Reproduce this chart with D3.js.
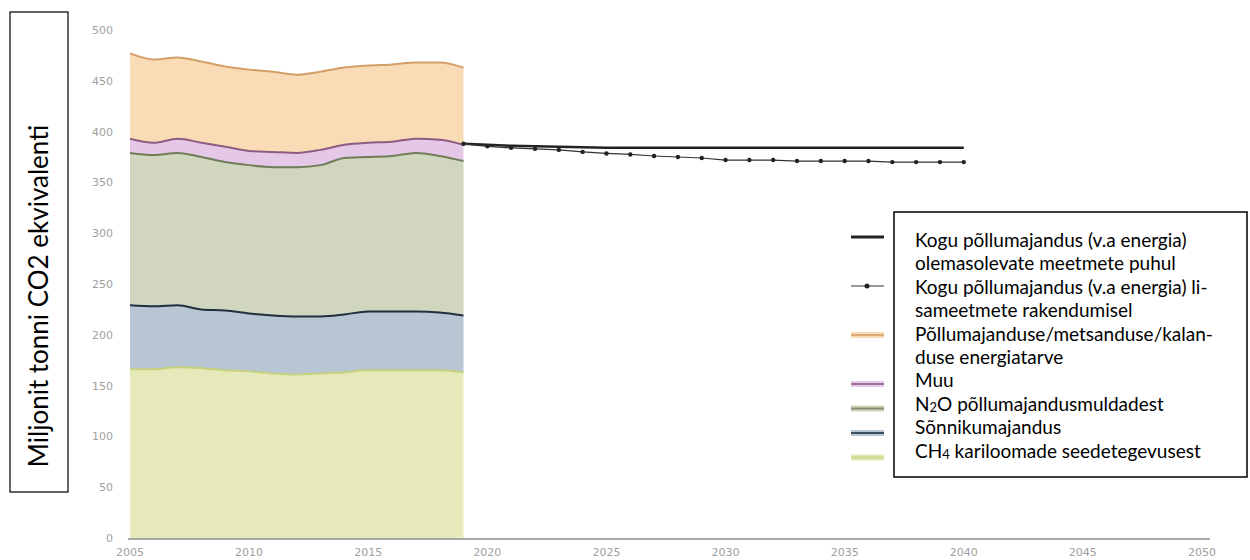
<!DOCTYPE html>
<html>
<head>
<meta charset="utf-8">
<script src="https://cdn.jsdelivr.net/npm/d3@7"></script>
<style>
  body { margin: 0; background: #fff; }
  svg { display: block; }
</style>
</head>
<body>
<script>
// ajaloolised andmed 2005-2019 (Mt CO2 ekv), komponendid alt üles
var years = [2005,2006,2007,2008,2009,2010,2011,2012,2013,2014,2015,2016,2017,2018,2019];
var ch4 =     [166,166,168,167,165,164,162,161,162,163,165,165,165,165,163];
var sonnik =  [63,62,61,58,59,57,57,57,56,57,58,58,58,57,56];
var n2o =     [150,149,150,150,146,146,146,147,149,154,152,153,156,154,152];
var muu =     [14,12,14,14,15,14,15,14,15,13,14,14,14,16,16];
var energia = [84,82,80,80,79,80,79,77,77,76,76,76,75,76,76];

// prognoosid 2019-2040
var projYears = [2019,2020,2021,2022,2023,2024,2025,2026,2027,2028,2029,2030,2031,2032,2033,2034,2035,2036,2037,2038,2039,2040];
var wem = [388,387,386,385.5,385,384.5,384,384,384,384,384,384,384,384,384,384,384,384,384,384,384,384];
var wam = [388,385.5,384,383,382,380,378.5,377.5,376,375,374,372,372,372,371,371,371,371,370,370,370,370];

var xTicks = [2005,2010,2015,2020,2025,2030,2035,2040,2045,2050];
var yTicks = [0,50,100,150,200,250,300,350,400,450,500];

var legendLines = [
  "Kogu põllumajandus (v.a energia)",
  "olemasolevate meetmete puhul",
  "Kogu põllumajandus (v.a energia) li-",
  "sameetmete rakendumisel",
  "Põllumajanduse/metsanduse/kalan-",
  "duse energiatarve",
  "Muu",
  "N|2|O põllumajandusmuldadest",
  "Sõnnikumajandus",
  "CH|4| kariloomade seedetegevusest"
];

var keys = ["ch4","sonnik","n2o","muu","energia"];
var fills = {ch4:"#e6eabb", sonnik:"#b8c5d3", n2o:"#d1d6be", muu:"#e5c7e7", energia:"#f9dbb6"};
var strokes = {ch4:"#c6d27e", sonnik:"#1f2f40", n2o:"#6f7d57", muu:"#8d5c80", energia:"#d29f68"};

var table = years.map(function (y, i) {
  return {year:y, ch4:ch4[i], sonnik:sonnik[i], n2o:n2o[i], muu:muu[i], energia:energia[i]};
});

var svg = d3.select("body").append("svg")
            .attr("width", 1250)
            .attr("height", 560);

var x = d3.scaleLinear().domain([2005, 2050]).range([130, 1202]);
var y = d3.scaleLinear().domain([0, 500]).range([538, 30]);

var stacked = d3.stack().keys(keys)(table);

var area = d3.area()
             .x(function (d) { return x(d.data.year); })
             .y0(function (d) { return y(d[0]); })
             .y1(function (d) { return y(d[1]); })
             .curve(d3.curveMonotoneX);

var topLine = d3.line()
                .x(function (d) { return x(d.data.year); })
                .y(function (d) { return y(d[1]); })
                .curve(d3.curveMonotoneX);

svg.selectAll("path.area")
   .data(stacked)
   .enter().append("path")
   .attr("class", "area")
   .attr("d", area)
   .attr("fill", function (d) { return fills[d.key]; });

svg.selectAll("path.top")
   .data(stacked)
   .enter().append("path")
   .attr("class", "top")
   .attr("d", topLine)
   .attr("fill", "none")
   .attr("stroke", function (d) { return strokes[d.key]; })
   .attr("stroke-width", 2);

// x telg
svg.append("line")
   .attr("x1", 128).attr("y1", y(0) + 1)
   .attr("x2", 1210).attr("y2", y(0) + 1)
   .attr("stroke", "#a8a8a8")
   .attr("stroke-width", 2);

svg.selectAll("text.xt")
   .data(xTicks)
   .enter().append("text")
   .attr("class", "xt")
   .attr("x", function (d) { return x(d); })
   .attr("y", 556)
   .attr("text-anchor", "middle")
   .attr("font-family", "Verdana, DejaVu Sans, sans-serif")
   .attr("font-size", 11)
   .attr("fill", "#a0a0a0")
   .text(function (d) { return d; });

svg.selectAll("text.yt")
   .data(yTicks)
   .enter().append("text")
   .attr("class", "yt")
   .attr("x", 113)
   .attr("y", function (d) { return y(d) + 4; })
   .attr("text-anchor", "end")
   .attr("font-family", "Verdana, DejaVu Sans, sans-serif")
   .attr("font-size", 11)
   .attr("fill", "#a0a0a0")
   .text(function (d) { return d; });

// prognoosijooned
var projLine = d3.line()
                 .x(function (d, i) { return x(projYears[i]); })
                 .y(function (d) { return y(d); });

svg.append("path")
   .attr("d", projLine(wem))
   .attr("fill", "none")
   .attr("stroke", "#222")
   .attr("stroke-width", 2.5);

svg.append("path")
   .attr("d", projLine(wam))
   .attr("fill", "none")
   .attr("stroke", "#333")
   .attr("stroke-width", 1.2);

svg.selectAll("circle.wam")
   .data(wam)
   .enter().append("circle")
   .attr("class", "wam")
   .attr("cx", function (d, i) { return x(projYears[i]); })
   .attr("cy", function (d) { return y(d); })
   .attr("r", 2.2)
   .attr("fill", "#222");

// legendi markerid (Exceli legendi jäänused)
var markerRows = [0, 2, 4, 6, 7, 8, 9];
var markerKinds = ["wem", "wam", "energia", "muu", "n2o", "sonnik", "ch4"];
var mg = svg.append("g");
markerKinds.forEach(function (k, i) {
  var my = 237 + 24.5 * markerRows[i];
  if (k === "wem") {
    mg.append("line").attr("x1", 851).attr("x2", 884).attr("y1", my).attr("y2", my)
      .attr("stroke", "#222").attr("stroke-width", 3);
  } else if (k === "wam") {
    mg.append("line").attr("x1", 851).attr("x2", 884).attr("y1", my).attr("y2", my)
      .attr("stroke", "#333").attr("stroke-width", 1.2);
    mg.append("circle").attr("cx", 867).attr("cy", my).attr("r", 2.5).attr("fill", "#222");
  } else {
    mg.append("line").attr("x1", 851).attr("x2", 884).attr("y1", my).attr("y2", my)
      .attr("stroke", fills[k]).attr("stroke-width", 6);
    mg.append("line").attr("x1", 851).attr("x2", 884).attr("y1", my).attr("y2", my)
      .attr("stroke", strokes[k]).attr("stroke-width", 2).attr("stroke-opacity", 0.8);
  }
});

// legendi kast
svg.append("rect")
   .attr("x", 894).attr("y", 212)
   .attr("width", 353).attr("height", 265)
   .attr("fill", "#fff")
   .attr("stroke", "#000")
   .attr("stroke-width", 1.5);

var lt = svg.append("g")
            .attr("font-family", "Lato, 'Open Sans', sans-serif")
            .attr("font-size", 19)
            .attr("fill", "#000");

legendLines.forEach(function (s, i) {
  var t = lt.append("text").attr("x", 915).attr("y", 247 + 23.4 * i);
  var parts = s.split("|");
  parts.forEach(function (p, j) {
    if (j % 2 === 1) {
      t.append("tspan").attr("font-size", 13).attr("dy", 1).text(p);
    } else {
      t.append("tspan").attr("dy", j > 0 ? -1 : 0).text(p);
    }
  });
});

// y telje pealkiri kastis
svg.append("rect")
   .attr("x", 10).attr("y", 12)
   .attr("width", 58).attr("height", 480)
   .attr("fill", "#fff")
   .attr("stroke", "#000")
   .attr("stroke-width", 1.2);

svg.append("text")
   .attr("transform", "translate(48,296) rotate(-90)")
   .attr("text-anchor", "middle")
   .attr("font-family", "Lato, 'Open Sans', sans-serif")
   .attr("font-size", 26)
   .attr("fill", "#000")
   .text("Miljonit tonni CO2 ekvivalenti");
</script>
</body>
</html>
